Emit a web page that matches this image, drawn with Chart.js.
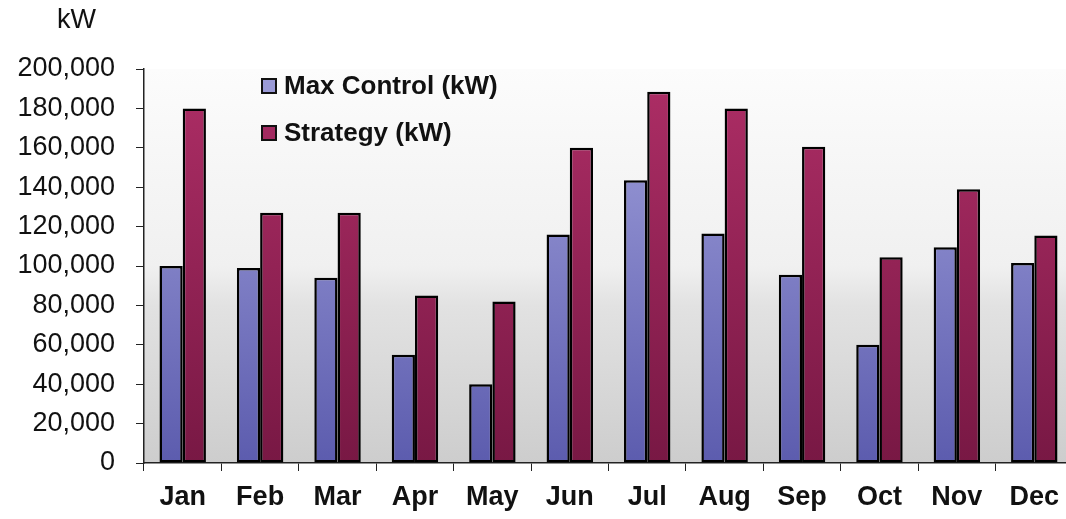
<!DOCTYPE html>
<html lang="en">

<head>
        <meta charset="UTF-8">
        <title>Max Control vs Strategy</title>
        <style>
                html, body {
                        margin: 0;
                        padding: 0;
                        background: #fff;
                        overflow: hidden;
                }

                #chart-container {
                        position: relative;
                        width: 1066px;
                        height: 519px;
                        overflow: hidden;
                }

                #unit {
                        position: absolute;
                        left: 57px;
                        top: 4px;
                        font: 27px "Liberation Sans", Arial, sans-serif;
                        color: #111;
                }
        </style>
</head>

<body>
        <div id="chart-container">
                <div id="unit">kW</div>
                <!-- canvas a bit wider than the window: the last category runs past the right edge -->
                <canvas id="myChart" width="1073" height="519"></canvas>
        </div>

        <script src="https://cdn.jsdelivr.net/npm/chart.js@4"></script>
        <script>
                const months = ['Jan', 'Feb', 'Mar', 'Apr', 'May', 'Jun', 'Jul', 'Aug', 'Sep', 'Oct', 'Nov', 'Dec']
                const maxControl = [100000, 99000, 94000, 55000, 40000, 116000, 143500, 116500, 95500, 60000, 109500, 101500]
                const strategy = [180000, 127000, 127000, 85000, 82000, 160000, 188500, 180000, 160500, 104500, 139000, 115500]
                const seriesNames = ['Max Control (kW)', 'Strategy (kW)']

                const ctx = document.getElementById('myChart')

                // vertical gradient over the plot area
                function vGrad(c, top, bottom) {
                        const area = c.chart.chartArea
                        if (!area) return bottom
                        const g = c.chart.ctx.createLinearGradient(0, area.top, 0, area.bottom)
                        g.addColorStop(0, top)
                        g.addColorStop(1, bottom)
                        return g
                }

                const plotBg = {
                        id: 'plotBg',
                        beforeDraw(chart) {
                                const { ctx, chartArea: a } = chart
                                const g = ctx.createLinearGradient(0, a.top, 0, a.bottom)
                                g.addColorStop(0, '#fcfcfc')
                                g.addColorStop(0.5, '#f0f0f0')
                                g.addColorStop(0.6, '#e2e2e2')
                                g.addColorStop(1, '#cdcdcd')
                                ctx.save()
                                ctx.fillStyle = g
                                ctx.fillRect(a.left, a.top, a.right - a.left, a.bottom - a.top)
                                ctx.restore()
                        }
                }

                // legend drawn inside the plot area, top left
                const innerLegend = {
                        id: 'innerLegend',
                        afterDraw(chart) {
                                const { ctx, chartArea: a } = chart
                                const swatch = ['#9a9ad6', '#a22a60']
                                ctx.save()
                                ctx.font = 'bold 26px "Liberation Sans", Arial, sans-serif'
                                ctx.textBaseline = 'middle'
                                chart.data.datasets.forEach((ds, i) => {
                                        const x = a.left + 118
                                        const y = a.top + 17 + i * 47
                                        ctx.fillStyle = swatch[i]
                                        ctx.fillRect(x, y - 7, 14, 14)
                                        ctx.strokeStyle = '#111'
                                        ctx.lineWidth = 2
                                        ctx.strokeRect(x, y - 7, 14, 14)
                                        ctx.fillStyle = '#111'
                                        ctx.fillText(ds.label, x + 22, y + 1)
                                })
                                ctx.restore()
                        }
                }

                new Chart(ctx, {
                        type: 'bar',
                        data: {
                                labels: months,
                                datasets: [{
                                        label: seriesNames[0],
                                        data: maxControl,
                                        backgroundColor: c => vGrad(c, '#a2a2dc', '#5c5cae'),
                                        borderColor: '#000',
                                        borderWidth: 2.5,
                                        borderSkipped: false
                                }, {
                                        label: seriesNames[1],
                                        data: strategy,
                                        backgroundColor: c => vGrad(c, '#ae2e66', '#781844'),
                                        borderColor: '#000',
                                        borderWidth: 2.5,
                                        borderSkipped: false
                                }]
                        },
                        plugins: [plotBg, innerLegend],
                        options: {
                                responsive: false,
                                animation: false,
                                layout: {
                                        padding: { top: 69, right: 0, bottom: 0, left: 0 }
                                },
                                datasets: {
                                        bar: {
                                                categoryPercentage: 0.6,
                                                barPercentage: 1
                                        }
                                },
                                plugins: {
                                        legend: { display: false },
                                        tooltip: { enabled: false }
                                },
                                scales: {
                                        x: {
                                                grid: {
                                                        drawOnChartArea: false,
                                                        tickLength: 8,
                                                        color: '#222'
                                                },
                                                border: { color: '#222', width: 1.5 },
                                                ticks: {
                                                        color: '#111',
                                                        padding: 10,
                                                        font: { family: '"Liberation Sans", Arial, sans-serif', size: 27, weight: 'bold' }
                                                },
                                                afterFit(scale) { scale.height = 56 }
                                        },
                                        y: {
                                                min: 0,
                                                max: 200000,
                                                grid: {
                                                        drawOnChartArea: false,
                                                        tickLength: 8,
                                                        color: '#222'
                                                },
                                                border: { color: '#222', width: 1.5 },
                                                ticks: {
                                                        stepSize: 20000,
                                                        color: '#111',
                                                        padding: 21,
                                                        font: { family: '"Liberation Sans", Arial, sans-serif', size: 27 },
                                                        callback: v => v.toLocaleString('en-US')
                                                },
                                                afterFit(scale) { scale.width = 144 }
                                        }
                                }
                        }
                })
        </script>
</body>

</html>
